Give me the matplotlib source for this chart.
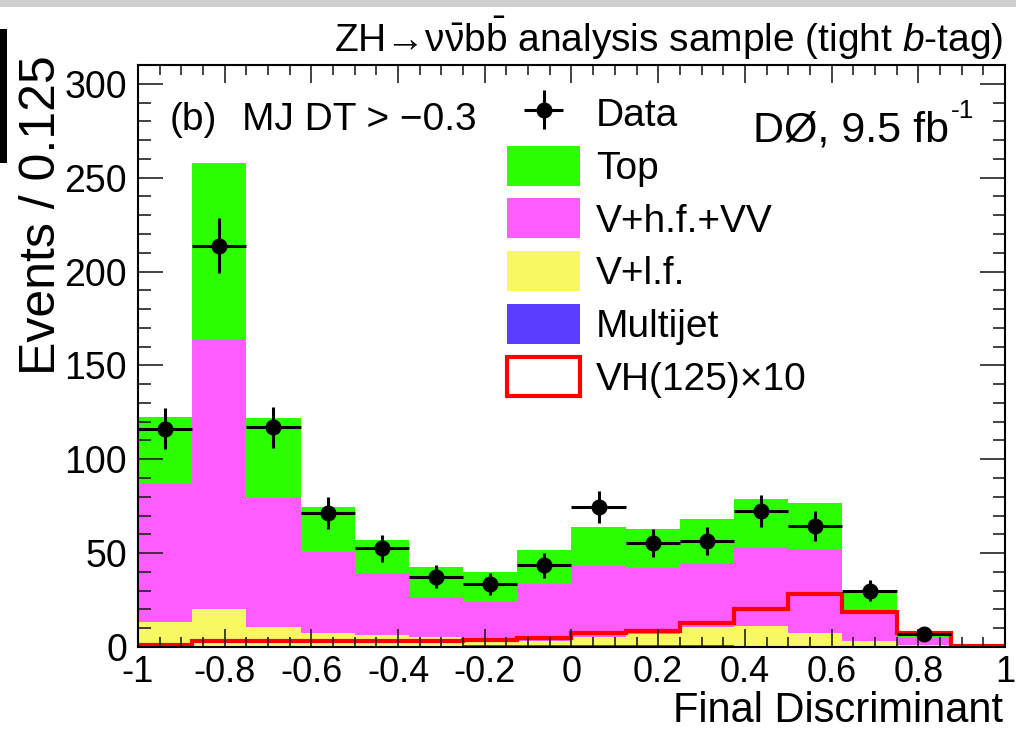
import matplotlib
matplotlib.use("Agg")
import matplotlib.pyplot as plt
from matplotlib.patches import Patch, Rectangle
import numpy as np

plt.rcParams["font.family"] = ["Liberation Sans", "DejaVu Sans"]
plt.rcParams["mathtext.fontset"] = "custom"
plt.rcParams["mathtext.rm"] = "Liberation Sans"
plt.rcParams["mathtext.it"] = "Liberation Sans:italic"
plt.rcParams["mathtext.sf"] = "Liberation Sans"
plt.rcParams["axes.unicode_minus"] = False

# bin edges of the final discriminant, width 0.125
edges = np.linspace(-1.0, 1.0, 17)

# background components (stacked from bottom: multijet, V+l.f., V+h.f.+VV, top)
multijet = [0.3, 0.4, 0.4, 0.5, 0.6, 0.7, 0.8, 0.9, 1.0, 0.9, 0.8, 0.7, 0.6, 0.4, 0.2, 0.0]
v_lf = [13.2, 19.8, 10.4, 7.1, 5.8, 4.5, 3.6, 2.3, 4.5, 6.0, 9.7, 10.5, 7.0, 2.8, 0.8, 0.0]
v_hf_vv = [73.5, 143.8, 68.8, 43.1, 32.8, 21.2, 20.2, 30.3, 37.5, 35.1, 34.5, 41.8, 44.4, 16.5, 3.8, 0.0]
top = [35.5, 94.0, 42.4, 23.9, 17.8, 16.0, 15.4, 18.1, 21.0, 20.8, 23.0, 26.0, 24.8, 8.8, 1.6, 0.0]

# signal VH(125) x 10
signal_x10 = [0.8, 3.0, 3.0, 3.0, 3.0, 3.3, 3.5, 5.0, 7.6, 8.7, 13.0, 20.0, 28.0, 18.8, 7.3, 0.5]

# data points (first 15 bins)
data = [116.3, 213.8, 117.0, 71.4, 52.5, 37.4, 33.5, 43.6, 74.6, 55.5, 56.5, 72.5, 64.5, 30.0, 6.7]
data_err = [10.8, 14.6, 10.8, 8.5, 7.2, 6.1, 5.8, 6.6, 8.6, 7.4, 7.5, 8.5, 8.0, 5.5, 2.6]

c_top = "#2bff00"
c_hf = "#ff5cff"
c_lf = "#f8f862"
c_mj = "#5b3dff"
c_sig = "#ff0000"

fig = plt.figure(figsize=(10.16, 7.41), dpi=100)
ax = fig.add_axes([138 / 1016, 1 - 647 / 741, 867 / 1016, 582 / 741])

width = edges[1] - edges[0]
left = edges[:-1]
bottom = np.zeros(16)
for vals, col in [(multijet, c_mj), (v_lf, c_lf), (v_hf_vv, c_hf), (top, c_top)]:
    ax.bar(left, vals, width=width, bottom=bottom, align="edge", color=col,
           linewidth=0, zorder=1)
    bottom = bottom + np.array(vals)

ax.stairs(signal_x10, edges, color=c_sig, linewidth=3, zorder=2)

centers = 0.5 * (edges[:-1] + edges[1:])
n = len(data)
eb = ax.errorbar(centers[:n], data, yerr=data_err, xerr=width / 2, fmt="o",
                 color="black", markersize=10.5, elinewidth=2.2, capsize=0, zorder=3)

ax.set_xlim(-1, 1)
ax.set_ylim(0, 310)
ax.set_axisbelow(False)

ax.set_xticks(np.arange(-1, 1.01, 0.2))
ax.set_xticks(np.arange(-1, 1.01, 0.05), minor=True)
ax.set_yticks(np.arange(0, 301, 50))
ax.set_yticks(np.arange(0, 310, 10), minor=True)
ax.set_xticklabels(["-1", "-0.8", "-0.6", "-0.4", "-0.2", "0", "0.2", "0.4", "0.6", "0.8", "1"])

ax.tick_params(axis="both", which="both", direction="in", top=True, right=True,
               width=1.2, color="#222222", labelsize=27)
ax.tick_params(axis="x", which="major", length=13, pad=6, labelsize=26)
ax.tick_params(axis="x", which="minor", length=7)
ax.tick_params(axis="y", which="major", length=18, pad=8)
ax.tick_params(axis="y", which="minor", length=9)
for s in ax.spines.values():
    s.set_linewidth(1.5)
    s.set_zorder(4)

ax.text(0.998, (647 - 722) / 582, "Final Discriminant", transform=ax.transAxes,
        ha="right", va="baseline", fontsize=30)
ax.text(-0.111, 1.017, "Events / 0.125", transform=ax.transAxes,
        rotation=90, ha="center", va="top", fontsize=36)

fig.text(1003 / 1016, 1 - 52 / 741,
         r"ZH→$\mathrm{\nu}\bar{\mathrm{\nu}}$b$\bar{\mathrm{b}}$ analysis sample (tight $b$-tag)",
         ha="right", va="baseline", fontsize=28)

ax.text(0.037, 0.888, "(b)", transform=ax.transAxes, fontsize=28, va="baseline")
ax.text(0.12, 0.888, "MJ DT > \u22120.3", transform=ax.transAxes, fontsize=28, va="baseline")
ax.text(0.709, 0.869, "DØ, 9.5 fb", transform=ax.transAxes, fontsize=31, va="baseline")
ax.text(0.937, 0.909, "-1", transform=ax.transAxes, fontsize=19, va="baseline")

handles = [eb,
           Patch(facecolor=c_top, edgecolor="none"),
           Patch(facecolor=c_hf, edgecolor="none"),
           Patch(facecolor=c_lf, edgecolor="none"),
           Patch(facecolor=c_mj, edgecolor="none"),
           Patch(facecolor="white", edgecolor=c_sig, linewidth=3)]
labels = ["Data", "Top", "V+h.f.+VV", "V+l.f.", "Multijet", "VH(125)\u00d710"]
ax.legend(handles, labels, loc="upper left", bbox_to_anchor=((507 - 138) / 867, (647 - 93) / 582),
          frameon=False, fontsize=28, handlelength=1.88, handleheight=1.2,
          labelspacing=0.30, handletextpad=0.4, borderpad=0, borderaxespad=0)

# scan artefacts of the original page
fig.patches.append(Rectangle((0, 1 - 7 / 741), 1, 7 / 741, transform=fig.transFigure,
                             facecolor="#cfcfcf", edgecolor="none"))
fig.patches.append(Rectangle((0, 1 - 163 / 741), 7 / 1016, 134 / 741, transform=fig.transFigure,
                             facecolor="black", edgecolor="none"))

fig.savefig("out.png", dpi=100)
